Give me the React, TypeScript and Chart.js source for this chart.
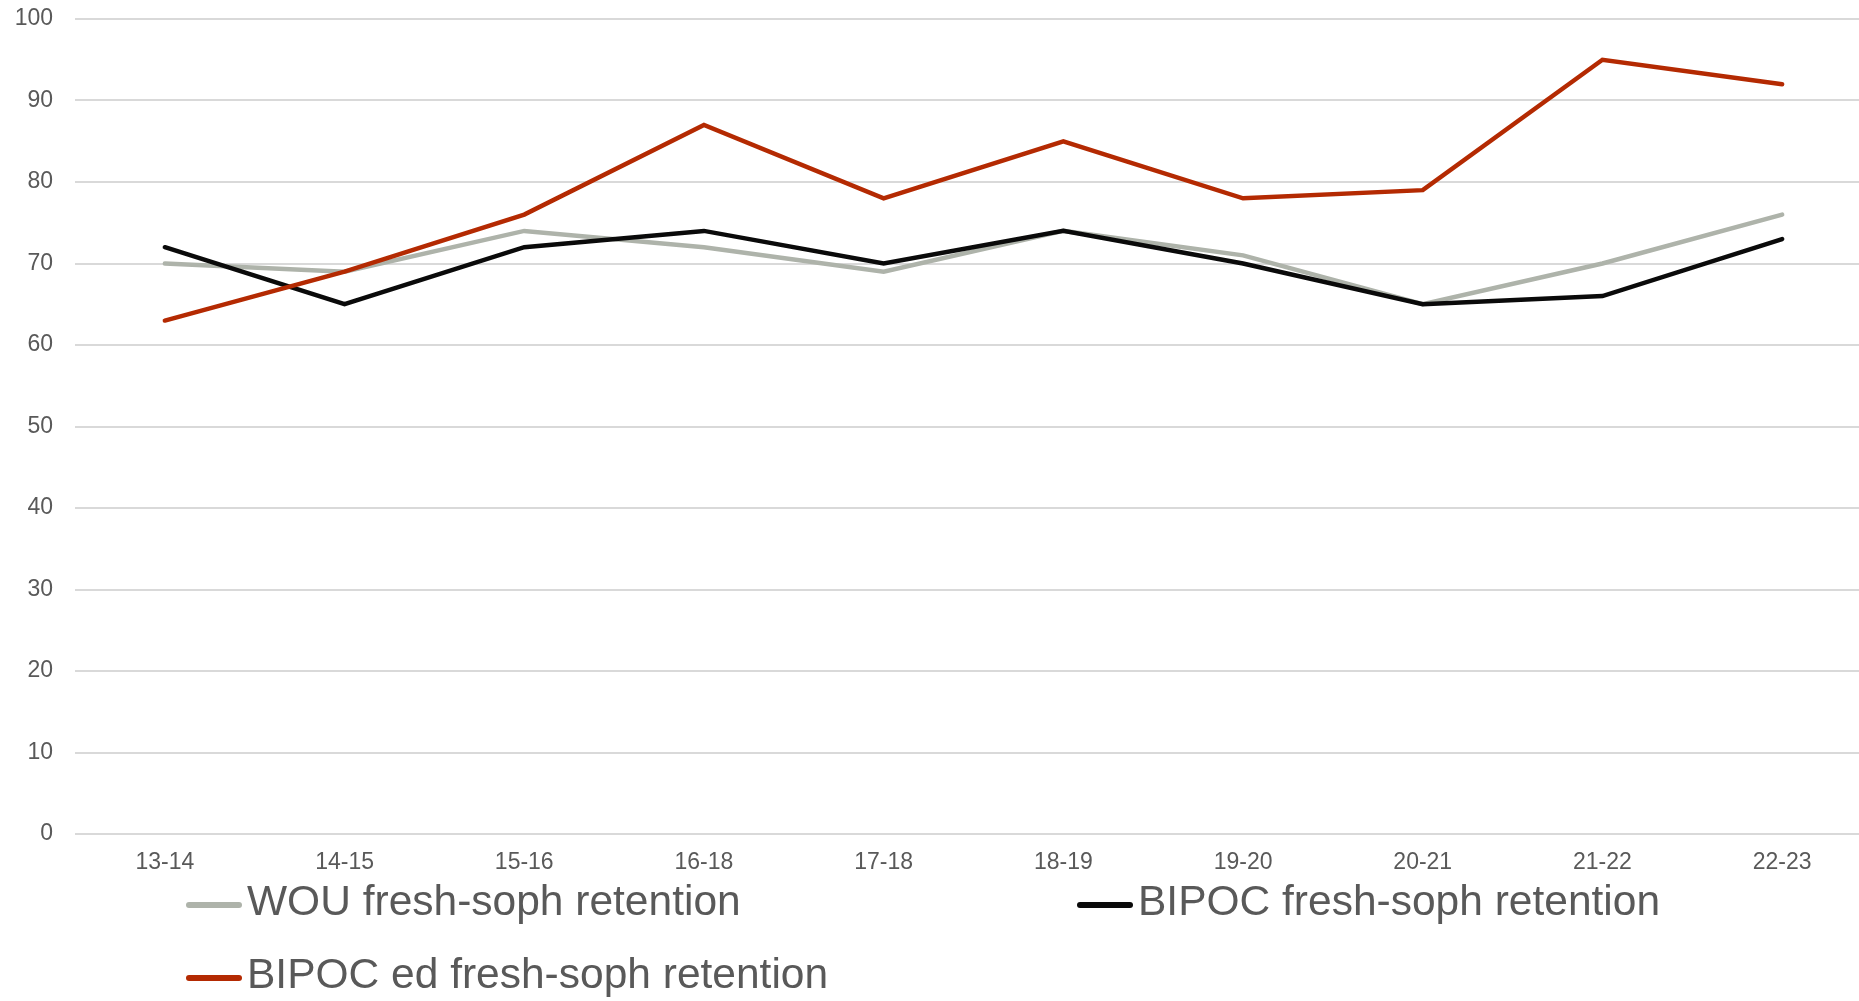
import React, { useEffect, useRef } from "react";
import { Chart, registerables } from "chart.js";

Chart.register(...registerables);

const categories = ["13-14", "14-15", "15-16", "16-18", "17-18", "18-19", "19-20", "20-21", "21-22", "22-23"];
const wouRetention = [70, 69, 74, 72, 69, 74, 71, 65, 70, 76];
const bipocRetention = [72, 65, 72, 74, 70, 74, 70, 65, 66, 73];
const bipocEdRetention = [63, 69, 76, 87, 78, 85, 78, 79, 95, 92];
const seriesLabels = ["WOU fresh-soph retention", "BIPOC fresh-soph retention", "BIPOC ed fresh-soph retention"];
const seriesColors = ["#AEB3AA", "#0A0A0A", "#B42A02"];

const FONT = "'Liberation Sans', Arial, sans-serif";

const customLegend = {
  id: "customLegend",
  afterDraw(chart: any) {
    const { ctx, chartArea } = chart;
    const slots = [
      { dx: 111, dy: 71 },
      { dx: 1002, dy: 71 },
      { dx: 111, dy: 144 },
    ];
    ctx.save();
    chart.data.datasets.forEach((ds: any, i: number) => {
      const s = slots[i];
      const x0 = chartArea.left + s.dx;
      const y = chartArea.bottom + s.dy;
      ctx.beginPath();
      ctx.strokeStyle = ds.borderColor;
      ctx.lineWidth = 6;
      ctx.lineCap = "round";
      ctx.moveTo(x0 + 3, y);
      ctx.lineTo(x0 + 53, y);
      ctx.stroke();
      ctx.fillStyle = "#595959";
      ctx.font = `42.5px ${FONT}`;
      ctx.textAlign = "left";
      ctx.textBaseline = "alphabetic";
      ctx.fillText(ds.label, x0 + 61, y + 10);
    });
    ctx.restore();
  },
};

export default function App() {
  const canvasRef = useRef<HTMLCanvasElement | null>(null);

  useEffect(() => {
    const canvas = canvasRef.current;
    if (!canvas) return;
    const data = [wouRetention, bipocRetention, bipocEdRetention];
    const orders = [3, 2, 1];
    const chart = new Chart(canvas, {
      type: "line",
      data: {
        labels: categories,
        datasets: data.map((d, i) => ({
          label: seriesLabels[i],
          data: d,
          borderColor: seriesColors[i],
          backgroundColor: seriesColors[i],
          borderWidth: 4.5,
          borderCapStyle: "round",
          borderJoinStyle: "miter",
          pointRadius: 0,
          pointHoverRadius: 0,
          tension: 0,
          fill: false,
          order: orders[i],
        })),
      },
      options: {
        animation: false,
        responsive: true,
        maintainAspectRatio: false,
        layout: { padding: { top: 19, right: 0, bottom: 0, left: 0 } },
        plugins: {
          legend: { display: false },
          tooltip: { enabled: false },
          title: { display: false },
        },
        scales: {
          x: {
            offset: true,
            grid: { display: false, drawTicks: false },
            border: { display: false },
            ticks: {
              color: "#595959",
              font: { family: FONT, size: 23 },
              padding: 15,
              maxRotation: 0,
              autoSkip: false,
            },
            afterFit: (s: any) => {
              s.height = 167;
            },
          },
          y: {
            min: 0,
            max: 100,
            grid: { color: "#D9D9D9", lineWidth: 2, drawTicks: false },
            border: { display: false },
            ticks: {
              stepSize: 10,
              color: "#595959",
              font: { family: FONT, size: 23 },
              padding: 22,
            },
            afterFit: (s: any) => {
              s.width = 75;
              s.paddingTop = 0;
              s.paddingBottom = 0;
            },
          },
        },
      },
      plugins: [customLegend],
    } as any);
    return () => chart.destroy();
  }, []);

  return (
    <div style={{ position: "fixed", top: 0, left: 0, width: 1859, height: 1001, overflow: "hidden", background: "#fff" }}>
      <div style={{ position: "relative", width: 1872, height: 1001 }}>
        <canvas ref={canvasRef} />
      </div>
    </div>
  );
}
